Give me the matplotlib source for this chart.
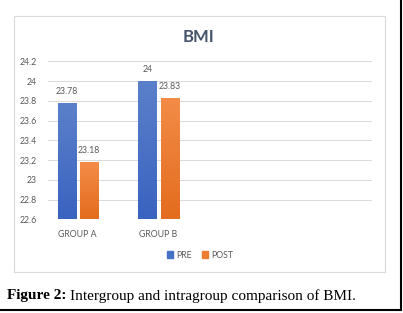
import numpy as np
import matplotlib
matplotlib.use('Agg')
import matplotlib.pyplot as plt
from matplotlib.colors import LinearSegmentedColormap
from matplotlib.patches import Rectangle, Patch
from matplotlib.lines import Line2D

# Values
groups = ['GROUP A', 'GROUP B']
pre = [23.78, 24.0]
post = [23.18, 23.83]
series_names = ['PRE', 'POST']
yticks = [22.6, 22.8, 23.0, 23.2, 23.4, 23.6, 23.8, 24.0, 24.2]

blue_top, blue_bot = '#5B80CA', '#3A63C0'
orange_top, orange_bot = '#F38C48', '#E36C1E'
txt_gray = '#595959'
fs = 6.3

plt.rcParams['font.family'] = ['Lato', 'DejaVu Sans']

fig = plt.figure(figsize=(4.03, 3.13), dpi=100)
W, H = 403.0, 313.0

# chart box
fig.patches.append(Rectangle((14 / W, 1 - 272 / H), 371 / W, 256 / H, transform=fig.transFigure,
                             fill=False, edgecolor='#D9D9D9', linewidth=0.8))
# black frame (right + bottom)
fig.add_artist(Line2D([401 / W, 401 / W], [1 - 310 / H, 1], transform=fig.transFigure, color='black', lw=1.5))
fig.add_artist(Line2D([0, 401 / W], [1 - 310 / H, 1 - 310 / H], transform=fig.transFigure, color='black', lw=1.5))

ax = fig.add_axes([48 / W, 1 - 219.3 / H, 324 / W, 158 / H])
for s in ax.spines.values():
    s.set_visible(False)
ax.set_yticks(yticks)
ax.set_yticklabels(['%g' % t for t in yticks], fontsize=fs, color=txt_gray)
ax.set_xticks(range(len(groups)))
ax.set_xticklabels(groups, fontsize=fs, color=txt_gray)
ax.tick_params(length=0)
ax.tick_params(axis='x', pad=8)
ax.tick_params(axis='y', pad=8)
ax.grid(axis='y', color='#D9D9D9', linewidth=0.7)
ax.set_axisbelow(True)

x = np.arange(len(groups))
bw = 0.223
off = 0.138


def grad_bars(xs, vals, top, bot):
    bars = ax.bar(xs, vals, width=bw, bottom=0, color='none', zorder=2)
    cmap = LinearSegmentedColormap.from_list('g', [bot, top])
    grad = np.linspace(0, 1, 100).reshape(-1, 1)
    for b, v in zip(bars, vals):
        x0 = b.get_x()
        im = ax.imshow(grad, cmap=cmap, aspect='auto', origin='lower',
                       extent=[x0, x0 + bw, 22.6, v], zorder=2)
        im.set_clip_path(b)
        ax.annotate('%g' % v, (x0 + bw / 2, v), xytext=(0, 5), textcoords='offset points',
                    ha='center', va='bottom', fontsize=fs, color=txt_gray)
    return bars


grad_bars(x - off, pre, blue_top, blue_bot)
grad_bars(x + off, post, orange_top, orange_bot)
ax.set_xlim(-0.368, 3.64)
ax.set_ylim(22.6, 24.2)

fig.text(198 / W, 1 - 36.7 / H, 'BMI', ha='center', va='center', fontsize=12,
         fontweight='bold', color='#44546A')

handles = [Patch(color='#4472C4'), Patch(color='#ED7D31')]
fig.legend(handles, series_names, loc='center', bbox_to_anchor=(200 / W, 1 - 255 / H), ncol=2,
           frameon=False, fontsize=fs, labelcolor=txt_gray, handlelength=0.7, handleheight=0.7,
           handletextpad=0.3, columnspacing=1.2)

# caption
t1 = fig.text(7 / W, 1 - 296 / H, 'Figure 2:', ha='left', va='center', fontsize=11,
              fontweight='bold', family='Liberation Serif')
fig.canvas.draw()
bb = t1.get_window_extent()
fig.text(bb.x1 / W + 4 / W, 1 - 296 / H, 'Intergroup and intragroup comparison of BMI.',
         ha='left', va='center', fontsize=11, family='Liberation Serif')

fig.savefig('out.png', dpi=100)
